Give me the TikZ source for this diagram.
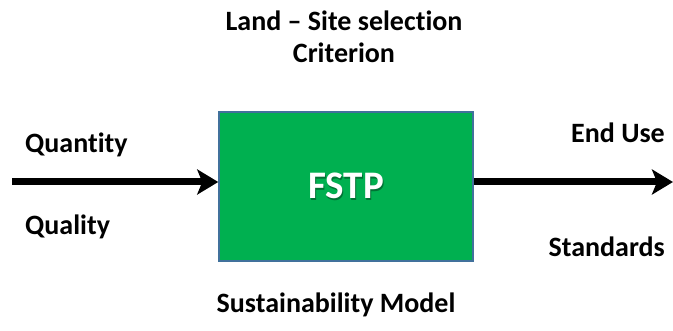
\documentclass[tikz,border=0pt]{standalone}
\usepackage{fontspec}
\setmainfont[Ligatures={TeX,NoCommon}]{Carlito}
\usetikzlibrary{arrows.meta}
\definecolor{boxgreen}{HTML}{00B050}
\definecolor{boxedge}{HTML}{41719C}
\tikzset{
  lbl/.style={font=\bfseries\fontsize{28}{32}\selectfont, inner sep=0pt, anchor=base},
  flow/.style={line width=7pt, -{Stealth[length=21pt,width=25pt,inset=5pt]}},
  procbox/.style={draw=boxedge, line width=1.5pt, fill=boxgreen, minimum width=254pt, minimum height=149pt, inner sep=0pt},
  boxtext/.style={font=\bfseries\fontsize{39}{44}\selectfont, inner sep=0pt, anchor=base}
}
\begin{document}
\begin{tikzpicture}[x=1pt,y=-1pt]
  \useasboundingbox (0,0) rectangle (673,331);
  % process block
  \node[procbox] (fstp) at (346,186.5) {};
  \node[boxtext, text=black!35!boxgreen] at (347.2,200.2) {FSTP};
  \node[boxtext, text=white] (fstplabel) at (346,199) {FSTP};
  % flow in and out
  \coordinate (src) at (12,182);
  \coordinate (snk) at (673,182);
  \draw[flow] (src) -- (src -| fstp.west);
  \draw[flow] (snk -| fstp.east) -- (snk);
  % labels
  \node[lbl] (land) at (344,31) {Land -- Site selection};
  \node[lbl] (crit) at (344,63) {Criterion};
  \node[lbl, anchor=base west] (qty) at (25,153) {Quantity};
  \node[lbl, anchor=base west] (qual) at (25,235) {Quality};
  \node[lbl, anchor=base east] (enduse) at (665,143) {End Use};
  \node[lbl, anchor=base east] (std) at (665,257) {Standards};
  \node[lbl] (sust) at (336,313) {Sustainability Model};
\end{tikzpicture}
\end{document}
